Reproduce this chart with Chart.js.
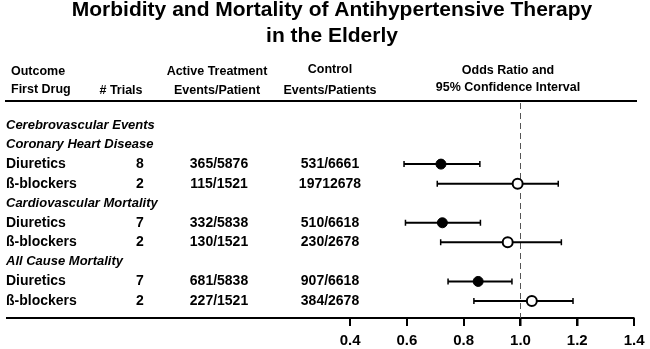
<!DOCTYPE html>
<html>
<head>
<meta charset="utf-8">
<script src="https://cdn.jsdelivr.net/npm/chart.js@4.4.1/dist/chart.umd.min.js"></script>
<style>
  body { margin: 0; background: #fff; }
  canvas { display: block; }
</style>
</head>
<body>
<canvas id="forest" width="650" height="349"></canvas>
<script>
// rows of the table, top to bottom
const rowLabels = ['Cerebrovascular Events', 'Coronary Heart Disease', 'Diuretics', 'ß-blockers',
  'Cardiovascular Mortality', 'Diuretics', 'ß-blockers', 'All Cause Mortality', 'Diuretics', 'ß-blockers'];
const isGroup = [true, true, false, false, true, false, false, true, false, false];
const trials = ['', '', '8', '2', '', '7', '2', '', '7', '2'];
const activeEvents = ['', '', '365/5876', '115/1521', '', '332/5838', '130/1521', '', '681/5838', '227/1521'];
const controlEvents = ['', '', '531/6661', '19712678', '', '510/6618', '230/2678', '', '907/6618', '384/2678'];
const oddsRatio = [null, null, 0.72, 0.99, null, 0.725, 0.955, null, 0.851, 1.04];
const ciLow = [null, null, 0.59, 0.707, null, 0.595, 0.719, null, 0.745, 0.836];
const ciHigh = [null, null, 0.857, 1.133, null, 0.859, 1.144, null, 0.97, 1.185];
const tickValues = [0.4, 0.6, 0.8, 1.0, 1.2, 1.4];

const titleLines = ['Morbidity and Mortality of Antihypertensive Therapy', 'in the Elderly'];

function points(drug){
  const out = [];
  rowLabels.forEach((lab, i) => {
    if(!isGroup[i] && lab === drug) out.push({ x: oddsRatio[i], y: i });
  });
  return out;
}

const FONT = '"Liberation Sans", Arial, Helvetica, sans-serif';

const forestPlugin = {
  id: 'forest',
  beforeDatasetsDraw(chart){
    const c = chart.ctx, xs = chart.scales.x, ys = chart.scales.y, area = chart.chartArea;
    c.save();
    // header rule
    c.strokeStyle = '#000';
    c.lineWidth = 2;
    c.beginPath();
    c.moveTo(5, area.top);
    c.lineTo(637, area.top);
    c.stroke();
    // tick marks under the axis
    c.lineWidth = 2;
    c.beginPath();
    xs.ticks.forEach(t => {
      const px = Math.round(xs.getPixelForValue(t.value));
      c.moveTo(px, area.bottom);
      c.lineTo(px, area.bottom + 8);
    });
    c.stroke();
    // reference line at OR = 1
    const x1 = Math.round(xs.getPixelForValue(1)) + 0.5;
    c.strokeStyle = '#555';
    c.lineWidth = 1;
    c.setLineDash([6, 4]);
    c.beginPath();
    c.moveTo(x1, area.top + 2);
    c.lineTo(x1, area.bottom);
    c.stroke();
    c.setLineDash([]);
    // confidence intervals
    c.strokeStyle = '#000';
    rowLabels.forEach((lab, i) => {
      if(ciLow[i] == null) return;
      const y = ys.getPixelForValue(i);
      const a = xs.getPixelForValue(ciLow[i]);
      const b = xs.getPixelForValue(ciHigh[i]);
      c.lineWidth = 2;
      c.beginPath();
      c.moveTo(a, y); c.lineTo(b, y);
      c.stroke();
      c.lineWidth = 1.5;
      c.beginPath();
      c.moveTo(a, y - 3); c.lineTo(a, y + 3);
      c.moveTo(b, y - 3); c.lineTo(b, y + 3);
      c.stroke();
    });
    c.restore();
  },
  afterDraw(chart){
    const c = chart.ctx, ys = chart.scales.y;
    c.save();
    c.fillStyle = '#000';
    // title
    c.font = 'bold 21px ' + FONT;
    c.textAlign = 'center';
    c.textBaseline = 'alphabetic';
    c.fillText(titleLines[0], 332, 16);
    c.fillText(titleLines[1], 332, 42);
    // column headers
    c.font = 'bold 12.5px ' + FONT;
    c.textBaseline = 'middle';
    c.textAlign = 'left';
    c.fillText('Outcome', 11, 72);
    c.fillText('First Drug', 11, 90);
    c.textAlign = 'center';
    c.fillText('# Trials', 121, 91);
    c.fillText('Active Treatment', 217, 72);
    c.fillText('Events/Patient', 217, 91);
    c.fillText('Control', 330, 70);
    c.fillText('Events/Patients', 330, 91);
    c.fillText('Odds Ratio and', 508, 71);
    c.fillText('95% Confidence Interval', 508, 88);
    // table rows
    rowLabels.forEach((lab, i) => {
      const y = ys.getPixelForValue(i);
      if(isGroup[i]){
        c.font = 'italic bold 13px ' + FONT;
        c.textAlign = 'left';
        c.fillText(lab, 6, y);
        return;
      }
      c.font = 'bold 14px ' + FONT;
      c.textAlign = 'left';
      c.fillText(lab, 6, y);
      c.textAlign = 'center';
      c.fillText(trials[i], 140, y);
      c.fillText(activeEvents[i], 219, y);
      c.fillText(controlEvents[i], 330, y);
    });
    c.restore();
  }
};

const ctx = document.getElementById('forest');
new Chart(ctx, {
  type: 'scatter',
  data: {
    datasets: [{
      label: 'Diuretics',
      data: points('Diuretics'),
      pointRadius: 5,
      backgroundColor: '#000',
      borderColor: '#000',
      borderWidth: 1
    }, {
      label: 'ß-blockers',
      data: points('ß-blockers'),
      pointRadius: 5,
      backgroundColor: '#fff',
      borderColor: '#000',
      borderWidth: 2
    }]
  },
  options: {
    responsive: false,
    animation: false,
    layout: { autoPadding: false, padding: { top: 101, left: 7, right: 14, bottom: -6 } },
    plugins: {
      legend: { display: false },
      tooltip: { enabled: false },
      title: { display: false }
    },
    scales: {
      x: {
        type: 'linear',
        min: -0.808,
        max: 1.4,
        afterBuildTicks: scale => { scale.ticks = tickValues.map(v => ({ value: v })); },
        grid: { display: true, drawOnChartArea: false, drawTicks: true, tickLength: 8, color: '#000', lineWidth: 1.5 },
        border: { display: true, color: '#000', width: 2 },
        ticks: {
          color: '#000',
          padding: 5.5,
          font: { family: FONT, size: 15, weight: 'bold' },
          callback: v => Number(v).toFixed(1)
        }
      },
      y: {
        type: 'linear',
        reverse: true,
        min: -1.227,
        max: 9.87,
        display: false
      }
    }
  },
  plugins: [forestPlugin]
});
</script>
</body>
</html>
